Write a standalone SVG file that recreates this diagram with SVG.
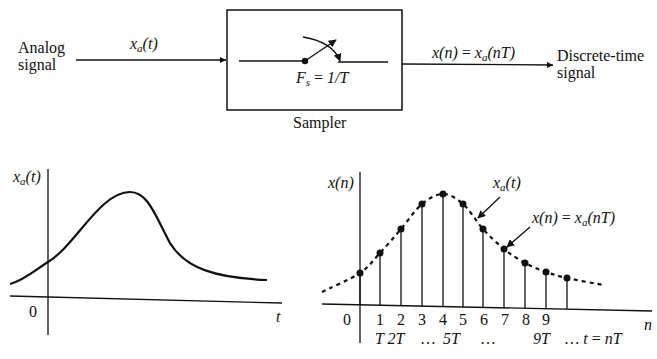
<svg xmlns="http://www.w3.org/2000/svg" width="657" height="359" viewBox="0 0 657 359">
<style>
  text { font-family: "Liberation Serif", "DejaVu Serif", "Times New Roman", serif; fill: #111; }
  .lbl { font-size: 16px; }
  .m { font-style: italic; font-size: 16px; }
  .num { font-size: 16px; }
  .ln { stroke: #111; stroke-width: 1.3; fill: none; }
  .thick { stroke: #111; stroke-width: 2.2; fill: none; }
  .dash { stroke: #111; stroke-width: 2.2; fill: none; stroke-dasharray: 4 4; }
  .dot { fill: #111; }
</style>
<defs>
  <marker id="ah" viewBox="0 0 10 10" refX="10" refY="5" markerWidth="9" markerHeight="6" markerUnits="userSpaceOnUse" orient="auto">
    <path d="M0,0 L10,5 L0,10 z" fill="#111"/>
  </marker>
  <marker id="ahs" viewBox="0 0 10 10" refX="9" refY="5" markerWidth="8" markerHeight="8" markerUnits="userSpaceOnUse" orient="auto">
    <path d="M0,0 L10,5 L0,10 z" fill="#111"/>
  </marker>
</defs>
<g font-family="Liberation Serif, DejaVu Serif, serif">
<g id="analog-signal">
  <text class="lbl" x="18" y="53">Analog</text>
  <text class="lbl" x="18" y="70">signal</text>
</g>

<g id="sampler">
  <rect x="227" y="10" width="175" height="100" fill="none" stroke="#111" stroke-width="1.5"/>
  <line class="ln" x1="239" y1="61" x2="305" y2="61"/>
  <circle class="dot" cx="305" cy="61" r="3.2"/>
  <line class="ln" x1="305" y1="61" x2="336" y2="40" marker-end="url(#ahs)"/>
  <path class="ln" d="M303,37 Q333,42 340,61" marker-end="url(#ahs)"/>
  <line class="ln" x1="338" y1="62" x2="388" y2="62"/>
  <text class="m" x="296" y="83">F<tspan font-size="11" dy="3">s</tspan><tspan dy="-3" font-style="normal"> = </tspan>1/T</text>
  <text class="lbl" x="293" y="128">Sampler</text>
</g>

<g id="discrete-time-signal">
  <text class="lbl" x="557" y="61">Discrete-time</text>
  <text class="lbl" x="557" y="78">signal</text>
</g>

<g id="connectors">
  <line class="ln" x1="76" y1="60" x2="226" y2="60" marker-end="url(#ah)"/>
  <text class="m" x="130" y="49">x<tspan font-size="11" dy="3">a</tspan><tspan dy="-3">(t)</tspan></text>
  <line class="ln" x1="402" y1="64" x2="553" y2="65" marker-end="url(#ah)"/>
  <text class="m" x="432" y="58">x(n)<tspan font-style="normal"> = </tspan>x<tspan font-size="11" dy="3">a</tspan><tspan dy="-3">(nT)</tspan></text>
</g>

<g id="analog-plot">
  <line class="ln" x1="48" y1="169" x2="48" y2="335"/>
  <line class="ln" x1="10" y1="296" x2="282" y2="303"/>
  <path class="thick" d="M10,284 C25,280 38,268 48,262 C75,246 100,192 130,192 C148,192 155,215 170,243 C185,268 215,278 267,280"/>
  <text class="m" x="13" y="182">x<tspan font-size="11" dy="3">a</tspan><tspan dy="-3">(t)</tspan></text>
  <text class="num" x="29" y="317">0</text>
  <text class="m" x="276" y="322">t</text>
</g>

<g id="sampled-plot">
  <line class="ln" x1="360" y1="172" x2="360" y2="343"/>
  <line class="ln" x1="322" y1="304" x2="652" y2="311"/>
  <path class="dash" d="M322,292 C328.3,288.8 350.3,279.5 360,273 C369.7,266.5 373.2,260.3 380,253 C386.8,245.7 394,237.2 401,229 C408,220.8 415,209.8 422,204 C429,198.2 436.2,194 443,194 C449.8,194 456.3,198.2 463,204 C469.7,209.8 476.2,221.5 483,229 C489.8,236.5 497,243.3 504,249 C511,254.7 518,259.2 525,263 C532,266.8 539,269.5 546,272 C553,274.5 557.5,275.8 567,278 C576.5,280.2 597,283.8 603,285"/>
  <g class="ln">
    <line x1="360" y1="273" x2="360" y2="305"/>
    <line x1="380" y1="253" x2="380" y2="305"/>
    <line x1="401" y1="229" x2="401" y2="306"/>
    <line x1="422" y1="204" x2="422" y2="306"/>
    <line x1="443" y1="194" x2="443" y2="307"/>
    <line x1="463" y1="204" x2="463" y2="307"/>
    <line x1="483" y1="229" x2="483" y2="308"/>
    <line x1="504" y1="249" x2="504" y2="308"/>
    <line x1="525" y1="263" x2="525" y2="308"/>
    <line x1="546" y1="272" x2="546" y2="309"/>
    <line x1="567" y1="278" x2="567" y2="309"/>
  </g>
  <g class="dot">
    <circle cx="360" cy="273" r="3.5"/>
    <circle cx="380" cy="253" r="3.5"/>
    <circle cx="401" cy="229" r="3.5"/>
    <circle cx="422" cy="204" r="3.5"/>
    <circle cx="443" cy="194" r="3.5"/>
    <circle cx="463" cy="204" r="3.5"/>
    <circle cx="483" cy="229" r="3.5"/>
    <circle cx="504" cy="249" r="3.5"/>
    <circle cx="525" cy="263" r="3.5"/>
    <circle cx="546" cy="272" r="3.5"/>
    <circle cx="567" cy="278" r="3.5"/>
  </g>
  <text class="m" x="328" y="188">x(n)</text>
  <text class="m" x="493" y="188">x<tspan font-size="11" dy="3">a</tspan><tspan dy="-3">(t)</tspan></text>
  <line class="ln" x1="500" y1="197" x2="478" y2="218" marker-end="url(#ahs)"/>
  <text class="m" x="532" y="223">x(n)<tspan font-style="normal"> = </tspan>x<tspan font-size="11" dy="3">a</tspan><tspan dy="-3">(nT)</tspan></text>
  <line class="ln" x1="530" y1="227" x2="507" y2="247" marker-end="url(#ahs)"/>
  <g class="num" text-anchor="middle">
    <text x="347" y="325">0</text>
    <text x="380" y="325">1</text>
    <text x="401" y="325">2</text>
    <text x="422" y="325">3</text>
    <text x="443" y="325">4</text>
    <text x="463" y="325">5</text>
    <text x="484" y="325">6</text>
    <text x="505" y="325">7</text>
    <text x="526" y="325">8</text>
    <text x="546" y="325">9</text>
  </g>
  <text class="m" x="644" y="330">n</text>
  <text class="m" x="375" y="344">T 2T</text>
  <text class="num" x="420" y="344">…</text>
  <text class="m" x="443" y="344">5T</text>
  <text class="num" x="480" y="344">…</text>
  <text class="m" x="533" y="344">9T</text>
  <text class="m" x="565" y="344">… t<tspan font-style="normal"> = </tspan>nT</text>
</g>
</g>
</svg>
